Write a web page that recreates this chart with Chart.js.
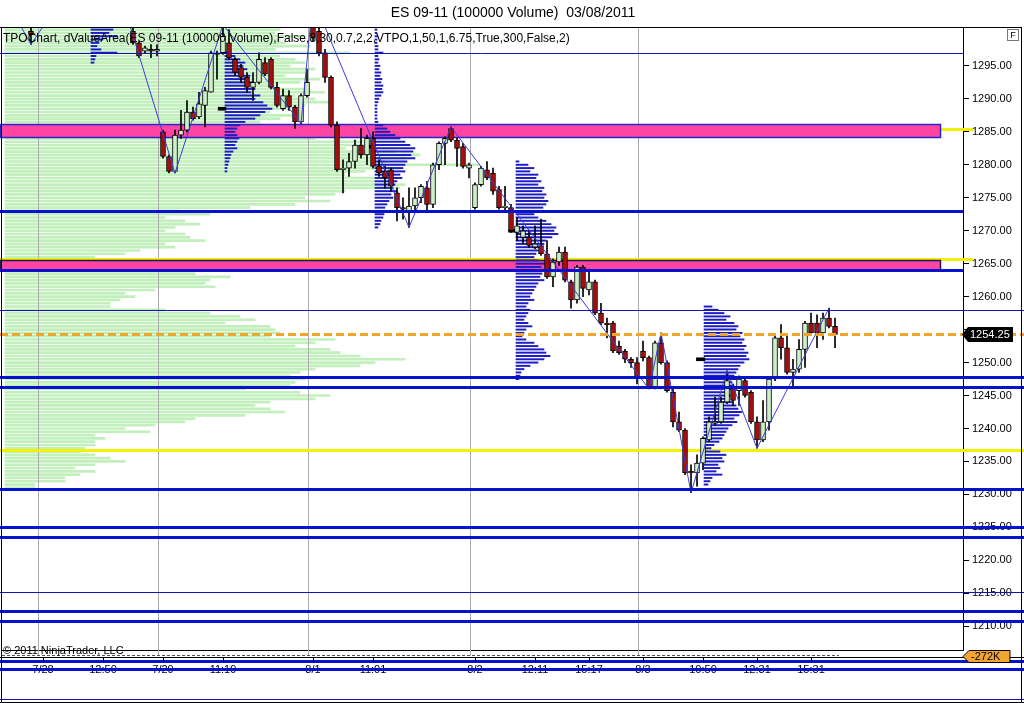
<!DOCTYPE html>
<html>
<head>
<meta charset="utf-8">
<title>ES 09-11 (100000 Volume) 03/08/2011</title>
<script src="https://cdn.jsdelivr.net/npm/chart.js@4.4.1/dist/chart.umd.min.js"></script>
<style>
html,body{margin:0;padding:0;background:#fff;overflow:hidden;}
canvas{display:block;}
</style>
</head>
<body>
<canvas id="c" width="1024" height="703" style="width:1024px;height:703px"></canvas>
<script>
// ---------------- data ----------------
// 100000-volume bars, index 0 = first bar of the window (bars 1-16 lie above the visible price range)
const barOpen = [1300.25, null,null,null,null,null,null,null,null,null,null,null,null,null,null,null,null,
 1300.25,1298.5,1297.25,1297.5,1297.25,1285,1281.25,1279,1284.5,1285.25,1288,1287.25,1289,1291,1296.75,1297,1298.5,1296,1294.75,1293.25,
 1291.75,1292.5,1295.5,1296,1291.75,1288.5,1290.5,1288.75,1286.5,1290.5,1302,1300.25,1297,1293.25,1286,1279.25,1279.5,1280.5,1283,1281.5,
 1284,1279.75,1279,1279.25,1275.75,1273.5,1272.75,1273.75,1275,1276.5,1274,1280,1283.25,1285.5,1283.75,1282.75,1279.5,1273.5,1277,1279.25,
 1278.75,1276.25,1273.5,1273.5,1269.75,1269,1269,1267.5,1267.75,1266.5,1263,1265.25,1266.75,1262.25,1259.5,1264.5,1261,1262.25,1257.5,1256,
 1256,1252.5,1251.75,1250.5,1250,1251.75,1250.75,1246.25,1253,1250,1245.5,1241,1239.75,1233.5,1233.25,1234.75,1238.25,1240.75,1241,1244,
 1246.25,1245.75,1247.25,1245.5,1241,1238.25,1241,1247.5,1253.75,1252.25,1248.5,1249,1252,1256,1256,1254.5,1256.75,1255.5];
const barHigh = [1301.5, null,null,null,null,null,null,null,null,null,null,null,null,null,null,null,null,
 1301,1298.75,1298,1298.25,1298.25,1285.25,1281.5,1285.25,1288.25,1289.75,1288.75,1291,1291.75,1297.25,1297.25,1301.25,1300.5,1296.25,1295.25,1294,
 1294,1297,1296.25,1296.25,1292.5,1291.5,1291.25,1289,1290.75,1294.5,1305.25,1301,1297.5,1293.5,1286.5,1280.75,1281.75,1283.75,1285.5,1284.5,
 1285,1280.75,1279.75,1279.5,1276.5,1275,1276.5,1276.5,1277,1277.5,1280.25,1283.5,1284.25,1285.75,1284,1283.25,1280.25,1277.25,1279.75,1280.5,
 1279.5,1276.75,1276.75,1274,1272,1270.75,1270,1270.75,1271.75,1268.5,1265.75,1267.5,1267.5,1262.5,1264.75,1264.75,1264,1262.5,1259,1256.75,
 1256.25,1253.25,1252,1250.75,1250.75,1253.25,1251,1253.25,1254.5,1250.25,1246,1242.5,1240,1234.5,1236,1238.75,1241.75,1244.75,1244.75,1248.75,
 1246.75,1248,1247.5,1245.75,1241.75,1244.25,1247.75,1254,1255.75,1254.25,1250.5,1253.5,1256.25,1257.5,1257.25,1257.5,1258.25,1256.75];
const barLow = [1298.25, null,null,null,null,null,null,null,null,null,null,null,null,null,null,null,null,
 1298.25,1296.25,1297,1296.25,1296.5,1281,1278.75,1278.75,1284,1285,1286.75,1287,1285.75,1291,1293,1296.75,1296,1293.5,1292.5,1291,
 1289.75,1292.25,1293.5,1291.5,1288.75,1288.25,1288.25,1285.5,1286.25,1290.25,1298.75,1296.5,1292.5,1285.75,1279,1275.75,1278.25,1279.5,1281,1280,
 1279.5,1278.25,1276.5,1276,1271.5,1271.75,1270.5,1272.75,1274.25,1272.75,1273.5,1279.25,1280,1283.5,1279.75,1279.5,1278,1273.25,1276.75,1277.75,
 1275.5,1273.25,1273,1269.75,1268.5,1268,1267.5,1267.25,1266.25,1262.75,1261.5,1264.75,1262.25,1258.25,1259,1260,1260.25,1257.25,1255.75,1253.75,
 1251.5,1251.25,1250,1249.25,1246.75,1250.25,1246,1246,1249.75,1245.5,1240.25,1239.5,1233,1230.25,1231.25,1233.75,1238,1240.5,1240.75,1243.75,
 1243.5,1243.5,1244.75,1240.75,1237,1238,1239.75,1247.25,1250.5,1248.25,1246.5,1248.5,1249.25,1254.25,1252.25,1253.5,1255.25,1252.25];
const barClose = [1299.75, null,null,null,null,null,null,null,null,null,null,null,null,null,null,null,null,
 1298.5,1296.5,1297.75,1297.25,1297.5,1281.25,1279,1284.5,1285.25,1288,1287,1289.25,1291.25,1297,1297,1299.5,1296.25,1294,1293.25,1291.75,
 1292.5,1296,1293.75,1291.75,1289,1290.5,1288.75,1286.5,1290.5,1292.5,1299.25,1297,1293.25,1286,1279.25,1279.5,1280.5,1283,1281.5,1284,
 1279.75,1278.75,1278,1276.75,1273.5,1273.25,1273.75,1275,1276.75,1274,1280,1283.25,1284,1283.75,1282.5,1279.75,1280,1277,1279.5,1278,
 1276,1273.5,1273.75,1270,1270.75,1270,1267.75,1268,1266.5,1263,1265.25,1266.75,1262.5,1259.5,1264.5,1261.25,1262.25,1257.5,1256,1255.75,
 1251.75,1251.5,1250.5,1250,1247.75,1250.75,1246.25,1253,1250,1245.75,1241,1239.75,1233.25,1233.25,1234.75,1238.5,1241,1241,1244,1247.25,
 1244.25,1247.5,1245,1241,1238.25,1241,1247.5,1253.75,1252.25,1248.5,1249,1252,1256,1254.5,1254.5,1256.75,1255.5,1254.25];

// zigzag swing points (bar index, price)
const zigzagBar   = [-4, 0, 12, 24, 32, 45, 47, 63, 70, 103, 105, 110, 116, 121, 133];
const zigzagPrice = [1304.75, 1298.25, 1314.5, 1278.75, 1301.25, 1286.25, 1305.25, 1270.5, 1285.75, 1246, 1254.5, 1230.25, 1248.75, 1237, 1258.25];

// composite volume profile (green), rows every 0.5 pt from the top price down
const greenTop = 1300.5;
const greenStartBar = -4.33;
const greenVol = [275,270,300,275,280,305,270,345,275,290,
 300,285,310,300,280,315,295,270,305,320,
 290,310,325,300,285,265,290,275,255,260,
 270,265,250,310,370,380,340,390,415,400,
 380,475,395,360,340,385,370,400,395,340,
 330,300,325,290,245,175,205,160,180,195,
 170,160,180,185,200,160,170,135,120,90,
 60,80,90,150,190,225,205,200,210,150,
 120,130,115,105,105,160,205,235,250,220,
 265,270,275,265,330,310,290,325,335,355,
 400,370,355,310,295,285,300,290,285,240,
 295,325,310,265,250,265,280,240,190,180,
 150,120,145,90,100,90,90,80,75,90,
 105,120,90,70,90,75,60,60,30,30];

// session profiles (blue)
const p1Top = 1301,   p1Start = 10,     p1Vol = [14,22,18,26,12,8,6,10,26,5,4,3];
const p2Top = 1297,   p2Start = 32.33,  p2Vol = [5,10,15,20,18,22,18,25,20,28,24,30,26,35,30,38,42,47,40,35,30,20,15,12,10,12,14,12,10,12,8,6,5,4,3,2,2];
const p3Top = 1300.5, p3Start = 57.33,  p3Vol = [2,2,3,2,2,3,3,8,3,4,3,5,4,6,5,7,6,8,7,8,6,4,3,2,2,2,2,2,3,8,12,15,20,25,30,35,40,38,36,40,32,30,28,30,25,27,22,20,18,22,16,18,14,12,10,12,9,8,6,5,3];
const p4Top = 1280.5, p4Start = 80.83,  p4Vol = [3,12,18,14,22,20,25,22,28,26,30,28,32,30,27,25,18,22,30,35,40,38,42,36,30,28,25,22,20,18,22,30,25,22,26,24,28,22,20,18,16,14,18,12,10,14,12,10,8,12,16,10,8,6,10,18,22,28,30,34,28,22,14,8,5,4,3];
const p5Top = 1258.5, p5Start = 112.17, p5Vol = [8,14,20,26,22,30,34,32,38,36,40,38,42,40,44,42,45,40,36,34,32,30,32,28,30,27,24,26,22,28,32,34,38,35,30,33,28,24,22,20,18,15,10,7,16,22,18,20,14,16,12,18,8,6,4];
const VOL_PER_BAR = 6;

// point-of-control markers
const pocPrice = [1288.5, 1282.75, 1270, 1250.5];
const pocFrom  = [31.2, 56, 79.6, 110.9];
const pocTo    = [32.5, 57.3, 81.2, 112.3];

// levels
const thinLevels   = [1297, 1258, 1215.25, 1199];
const thickLevels  = [1273, 1264, 1247.75, 1246.25, 1230.75, 1225, 1223.5, 1212.25, 1210.75, 1204.75, 1203.5];
const yellowLevels = [1285.5, 1265.75, 1236.75];
const zoneLow  = [1284.25, 1264];
const zoneHigh = [1286.25, 1265.5];
const zoneEndBar = 151.5;
const lastPrice = 1254.25;
const deltaLabel = '-272K';
const EXTEND_BELOW = 1260;

// axes
const xTickBars   = [2, 12, 22, 32, 47, 57, 74, 84, 93, 102, 112, 121, 130];
const xTickLabels = ['7/28','12:50','7/29','11:19','8/1','11:01','8/2','12:11','15:17','8/3','10:59','12:31','15:31'];
const sessionBreaks = [1.2, 21.2, 46.2, 73.2, 101.2];
const yTicks = [1210,1215,1220,1225,1230,1235,1240,1245,1250,1255,1260,1265,1270,1275,1280,1285,1290,1295];
const Y_MIN = 1206.4, Y_MAX = 1300.9, X_MIN = -4.83, X_MAX = 155.33;

// ---------------- build datasets ----------------
const wicks = [], upBodies = [], downBodies = [];
for (let i = 0; i < barOpen.length; i++) {
  if (barOpen[i] == null) continue;
  const o = barOpen[i], h = barHigh[i], l = barLow[i], c = barClose[i];
  wicks.push({x: i, y: [l, h]});
  const body = {x: i, y: [Math.min(o, c), Math.max(o, c)]};
  (c >= o ? upBodies : downBodies).push(body);
}
function profileRows(top, start, vols) {
  return vols.map((v, i) => ({y: top - i * 0.5, x: [start, start + v / VOL_PER_BAR]}));
}
const zigzag = zigzagBar.map((b, i) => ({x: b, y: zigzagPrice[i]}));
const pocs = pocPrice.map((p, i) => ({y: p, x: [pocFrom[i], pocTo[i]]}));

const FONT = "'Liberation Sans', Arial, sans-serif";
Chart.defaults.font.family = FONT;

const BLUE_PROF = '#1d1dc4';
const profDs = (top, start, vols) => ({
  type: 'bar', indexAxis: 'y', data: profileRows(top, start, vols),
  backgroundColor: BLUE_PROF, barThickness: 1.3, grouped: false, order: 8
});

const overlay = {
  id: 'overlay',
  afterDatasetDraw(chart, args) {
    if (args.index !== 0) return;
    const {ctx, chartArea: a, scales: {x, y}} = chart;
    const W = chart.width;
    ctx.save();
    // session separators
    ctx.strokeStyle = '#ababab'; ctx.lineWidth = 1;
    sessionBreaks.forEach(b => {
      const px = Math.round(x.getPixelForValue(b)) + 0.5;
      ctx.beginPath(); ctx.moveTo(px, a.top); ctx.lineTo(px, a.bottom + 6); ctx.stroke();
    });
    // yellow levels
    ctx.strokeStyle = '#f2f200'; ctx.lineWidth = 3;
    yellowLevels.forEach(v => {
      const p = Math.round(y.getPixelForValue(v)) + 0.5;
      ctx.beginPath(); ctx.moveTo(0, p); ctx.lineTo(v < EXTEND_BELOW ? W : a.right + 10, p); ctx.stroke();
    });
    // pink zones
    zoneLow.forEach((lo, i) => {
      const y0 = Math.round(y.getPixelForValue(zoneHigh[i]));
      const y1 = Math.round(y.getPixelForValue(lo));
      const x1 = Math.round(x.getPixelForValue(zoneEndBar));
      ctx.fillStyle = '#ff45a2';
      ctx.fillRect(0, y0, x1, y1 - y0);
      ctx.strokeStyle = i === 0 ? '#2626c8' : '#1a1a50';
      ctx.lineWidth = 1.5;
      ctx.strokeRect(0.5, y0 + 0.5, x1, y1 - y0);
    });
    ctx.restore();
  },
  afterDraw(chart) {
    const {ctx, chartArea: a, scales: {x, y}} = chart;
    const W = chart.width, H = chart.height;
    const py = v => Math.round(y.getPixelForValue(v));
    ctx.save();
    // thin blue levels
    ctx.strokeStyle = '#1414b4'; ctx.lineWidth = 1;
    thinLevels.forEach(v => {
      const p = py(v) + 0.5;
      ctx.beginPath(); ctx.moveTo(0, p); ctx.lineTo(v < EXTEND_BELOW ? W : a.right, p); ctx.stroke();
    });
    // thick blue levels
    ctx.strokeStyle = '#0612cf'; ctx.lineWidth = 3;
    thickLevels.forEach(v => {
      const p = py(v) + 0.5;
      ctx.beginPath(); ctx.moveTo(0, p); ctx.lineTo(v < EXTEND_BELOW ? W : a.right, p); ctx.stroke();
    });
    // last price dashed
    const lp = py(lastPrice) - 0.5;
    ctx.strokeStyle = '#f0a52a'; ctx.lineWidth = 3; ctx.setLineDash([8, 4]);
    ctx.beginPath(); ctx.moveTo(0, lp); ctx.lineTo(W, lp); ctx.stroke();
    ctx.setLineDash([]);
    // last price tag
    ctx.fillStyle = '#000';
    ctx.beginPath();
    ctx.moveTo(a.right - 1, lp); ctx.lineTo(a.right + 5, lp - 7.5); ctx.lineTo(a.right + 50, lp - 7.5);
    ctx.lineTo(a.right + 50, lp + 7.5); ctx.lineTo(a.right + 5, lp + 7.5); ctx.closePath(); ctx.fill();
    ctx.fillStyle = '#fff'; ctx.font = '11px ' + FONT; ctx.textBaseline = 'middle'; ctx.textAlign = 'left';
    ctx.fillText(lastPrice.toFixed(2), a.right + 7, lp + 0.5);

    // lower panel frame
    const bar0 = Math.round(x.getPixelForValue(barOpen.length - 1));
    ctx.strokeStyle = '#555'; ctx.lineWidth = 1; ctx.setLineDash([3, 2]);
    ctx.beginPath(); ctx.moveTo(a.left, a.bottom + 5.5); ctx.lineTo(bar0 + 4, a.bottom + 5.5); ctx.stroke();
    ctx.setLineDash([]);
    ctx.strokeStyle = '#000';
    ctx.beginPath(); ctx.moveTo(0, a.bottom + 7.5); ctx.lineTo(W, a.bottom + 7.5); ctx.stroke();
    // frame
    ctx.beginPath();
    ctx.moveTo(0, a.top + 0.5); ctx.lineTo(W - 2, a.top + 0.5);
    ctx.moveTo(1.5, a.top); ctx.lineTo(1.5, H);
    ctx.moveTo(W - 2.5, a.top); ctx.lineTo(W - 2.5, H);
    ctx.moveTo(0, H - 0.5); ctx.lineTo(W, H - 0.5);
    ctx.stroke();
    // x tick marks
    xTickBars.forEach(b => {
      const px = Math.round(x.getPixelForValue(b)) + 0.5;
      ctx.beginPath(); ctx.moveTo(px, a.bottom + 7); ctx.lineTo(px, a.bottom + 12); ctx.stroke();
    });
    // delta tag
    const dy = a.bottom + 6.5;
    ctx.fillStyle = '#f4a431';
    ctx.beginPath();
    ctx.moveTo(a.right, dy); ctx.lineTo(a.right + 6, dy - 6); ctx.lineTo(a.right + 47, dy - 6);
    ctx.lineTo(a.right + 47, dy + 6); ctx.lineTo(a.right + 6, dy + 6); ctx.closePath(); ctx.fill();
    ctx.strokeStyle = '#000'; ctx.lineWidth = 1; ctx.stroke();
    ctx.fillStyle = '#000'; ctx.font = '11px ' + FONT;
    ctx.fillText(deltaLabel, a.right + 8, dy + 0.5);
    // F box
    ctx.strokeStyle = '#777'; ctx.strokeRect(1007.5, a.top + 2.5, 11, 11);
    ctx.fillStyle = '#000'; ctx.font = '9px ' + FONT; ctx.textAlign = 'center';
    ctx.fillText('F', 1013, a.top + 8.5);
    // texts
    ctx.textAlign = 'left';
    ctx.font = '12px ' + FONT; ctx.fillStyle = '#000';
    ctx.fillText('TPOChart, dValueArea(ES 09-11 (100000 Volume),False,8,30,0.7,2,2,VTPO,1,50,1,6.75,True,300,False,2)', 3, a.top + 12);
    ctx.font = '11px ' + FONT;
    ctx.fillText('\u00A9 2011 NinjaTrader, LLC', 3, a.bottom + 1);
    ctx.restore();
  }
};

new Chart(document.getElementById('c'), {
  type: 'bar',
  data: {
    datasets: [
      {type: 'bar', indexAxis: 'y', data: profileRows(greenTop, greenStartBar, greenVol),
       backgroundColor: '#c2f0bd', barThickness: 2, grouped: false, order: 10},
      profDs(p1Top, p1Start, p1Vol),
      profDs(p2Top, p2Start, p2Vol),
      profDs(p3Top, p3Start, p3Vol),
      profDs(p4Top, p4Start, p4Vol),
      profDs(p5Top, p5Start, p5Vol),
      {type: 'bar', indexAxis: 'y', data: pocs, backgroundColor: '#000', barThickness: 3, grouped: false, order: 7},
      {type: 'bar', data: wicks, backgroundColor: '#000', barThickness: 1, grouped: false, order: 4},
      {type: 'bar', data: upBodies, backgroundColor: '#cdf0c8', borderColor: '#000', borderWidth: 1,
       borderSkipped: false, barThickness: 5, grouped: false, order: 3},
      {type: 'bar', data: downBodies, backgroundColor: '#a80c0c', borderColor: '#000', borderWidth: 1,
       borderSkipped: false, barThickness: 5, grouped: false, order: 3},
      {type: 'line', data: zigzag, borderColor: '#3c3cd6', borderWidth: 1, pointRadius: 0, tension: 0, order: 1}
    ]
  },
  options: {
    responsive: false, animation: false, devicePixelRatio: 1, events: [],
    layout: {padding: {left: 2, right: 0, top: 0, bottom: 0}},
    plugins: {
      legend: {display: false}, tooltip: {enabled: false},
      title: {display: true, text: 'ES 09-11 (100000 Volume)  03/08/2011', color: '#000',
              font: {family: FONT, size: 14, weight: 'normal', lineHeight: 1.2}, padding: {top: 5, bottom: 5.2}}
    },
    scales: {
      x: {
        type: 'linear', min: X_MIN, max: X_MAX, offset: false,
        grid: {offset: false, drawOnChartArea: false, drawTicks: true, tickLength: 10, tickColor: 'rgba(0,0,0,0)'},
        border: {display: true, color: '#000'},
        ticks: {autoSkip: false, maxRotation: 0, padding: 3, color: '#000', font: {size: 11},
                callback: (v, i) => xTickLabels[i]},
        afterBuildTicks: s => { s.ticks = xTickBars.map(v => ({value: v})); },
        afterFit: s => { s.height = 53; }
      },
      y: {
        type: 'linear', position: 'right', min: Y_MIN, max: Y_MAX, offset: false, beginAtZero: false,
        grid: {offset: false, drawOnChartArea: false, tickLength: 6, color: '#000'},
        border: {display: true, color: '#000'},
        ticks: {padding: 3, color: '#000', font: {size: 11},
                callback: v => Math.abs(v - lastPrice) < 2 ? '' : Number(v).toFixed(2)},
        afterBuildTicks: s => { s.ticks = yTicks.map(v => ({value: v})); },
        afterFit: s => { s.width = 61; }
      }
    }
  },
  plugins: [overlay]
});
</script>
</body>
</html>
